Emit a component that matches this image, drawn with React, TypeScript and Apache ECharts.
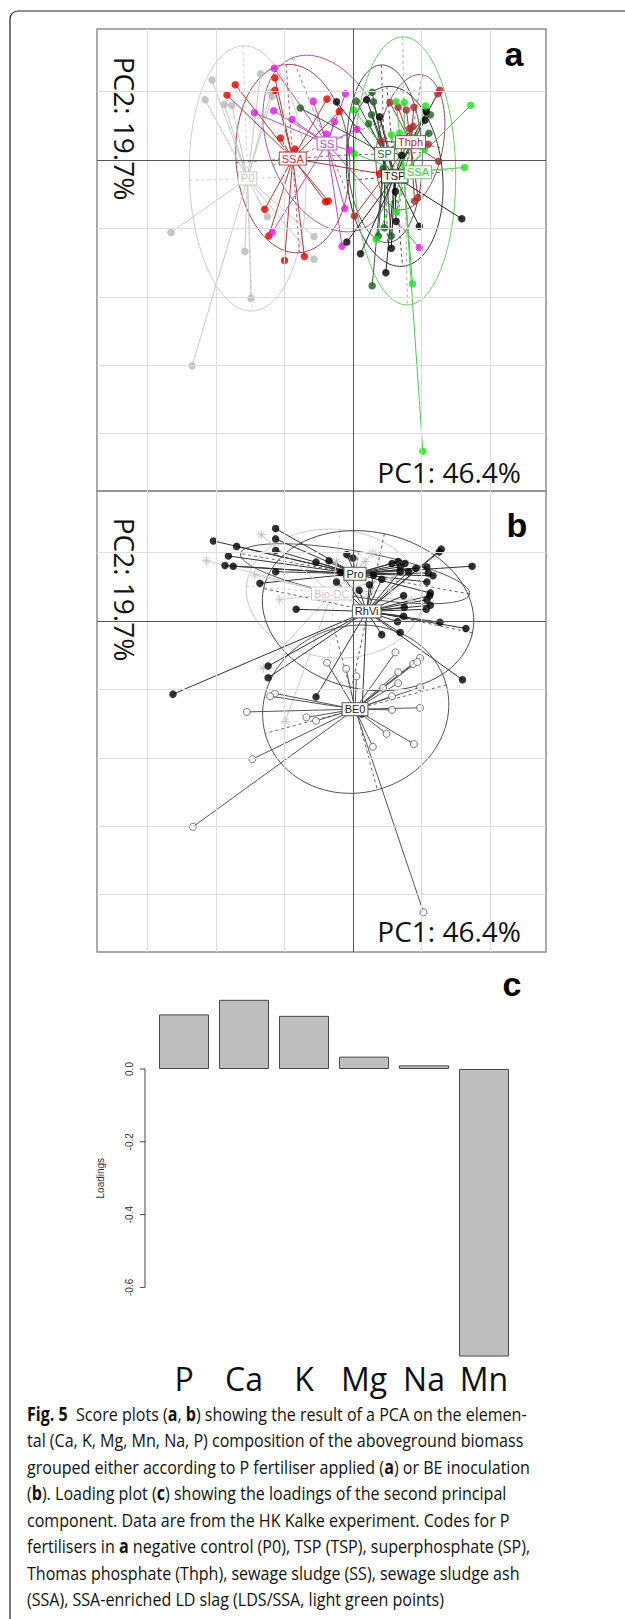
import React, { useEffect, useRef } from "react";
import * as echarts from "echarts";

// ---------- Panel a: scores grouped by P fertiliser ----------
const scoresP0 = [[-2.06,1.17],[-2.16,0.88],[-1.88,0.81],[-1.77,0.80],[-1.20,0.99],[-1.18,0.93],[-1.35,1.26],[-1.25,-0.83],[-0.57,-1.12],[-0.57,-1.45],[-1.58,-1.34],[-1.49,-2.02],[-2.66,-1.06],[-2.35,-3.01]];
const scoresSSA = [[-1.72,1.10],[-1.84,0.95],[-1.14,1.20],[-1.14,1.02],[-0.38,0.89],[-0.20,0.71],[-1.06,0.32],[-0.85,0.16],[-0.40,-0.61],[-0.36,-0.60],[-1.29,-0.72],[-1.23,-1.11],[-1.00,-1.47],[-0.71,-1.41],[0.39,-0.20]];
const scoresSS = [[-1.15,1.34],[-1.44,0.69],[-1.16,0.72],[-0.89,0.59],[-0.58,0.86],[-0.27,0.56],[-0.11,0.97],[0.06,0.45],[-0.05,0.14],[-0.12,-0.71],[-0.16,-1.26],[-1.18,-1.06],[0.97,-1.28],[-0.39,0.38]];
const scoresThph = [[1.27,1.02],[1.24,0.97],[0.54,0.84],[0.66,0.77],[0.78,0.73],[0.89,0.77],[0.83,0.46],[0.88,0.49],[1.10,0.23],[1.25,-0.02],[0.90,-0.60],[0.95,-0.55],[0.02,-0.82],[0.41,0.27]];
const scoresSP = [[-0.77,0.76],[0.05,0.86],[0.28,0.99],[0.30,0.85],[0.27,0.66],[0.23,0.53],[0.44,-0.12],[0.46,-0.99],[0.56,-1.11],[0.37,-1.11],[0.28,-1.84],[1.13,0.66],[1.11,0.39]];
const scoresTSP = [[-0.24,0.85],[0.20,0.88],[0.71,0.07],[1.07,0.71],[1.05,0.58],[0.63,-0.90],[0.97,-0.97],[0.56,-1.29],[0.48,-1.65],[0.11,-1.37],[-0.09,-1.20],[1.59,-0.86],[0.62,-0.46],[0.39,0.63]];
const scoresLDS = [[1.72,0.80],[1.63,-0.11],[0.01,0.73],[0.63,0.85],[0.75,0.84],[1.06,0.79],[0.56,0.37],[0.68,0.39],[0.64,-0.76],[0.34,-1.16],[0.87,-1.81],[0.02,0.09],[1.04,0.15],[1.02,-4.26]];

// centroids, label positions, ellipses [cx, cy, semi-major, semi-minor, angle deg]
const centroidsA = [[-1.54,-0.27],[-0.88,0.02],[-0.38,0.24],[0.84,0.26],[0.46,0.09],[0.61,-0.24],[0.74,-0.18]];
const labelPosA = [[-1.54,-0.27],[-0.88,0.02],[-0.38,0.24],[0.84,0.26],[0.46,0.09],[0.61,-0.24],[0.95,-0.18]];
const ellipsesA = [[-1.54,-0.27,1.94,0.85,92],[-0.88,0.02,1.38,0.83,94],[-0.38,0.24,1.35,0.85,112],[0.84,0.26,1.0,0.48,80],[0.46,0.09,1.30,0.55,92],[0.61,-0.24,1.32,0.70,95],[0.76,-0.16,1.96,0.74,91]];
const labelsA = ["P0","SSA","SS","Thph","SP","TSP","SSA"];

// ---------- Panel b: scores grouped by BE inoculation ----------
const scoresPro = [[-1.13,1.35],[-1.13,1.20],[-2.04,1.17],[-1.70,1.09],[-1.13,1.03],[-1.82,0.95],[-1.87,0.81],[-1.75,0.80],[-1.13,0.72],[-1.36,0.55],[-0.54,0.86],[-0.35,0.88],[-0.09,0.97],[0.00,0.92],[0.57,0.84],[0.66,0.87],[0.69,0.79],[0.76,0.84],[0.92,0.77],[1.08,0.79],[1.10,0.70],[1.17,0.66],[1.74,0.80],[1.08,0.57],[1.13,0.41]];
const scoresBioDC = [[-1.34,1.26],[-2.14,0.88],[-1.44,0.67],[-1.07,0.31],[-0.24,0.87],[0.18,0.87],[0.29,0.99],[-1.31,-0.69],[-0.99,-1.47],[0.55,0.45],[0.85,0.30],[0.95,0.75],[0.35,0.15]];
const scoresRhVi = [[-0.83,0.17],[0.24,0.53],[0.09,0.45],[0.30,0.67],[0.42,0.61],[0.69,0.72],[0.81,0.72],[1.26,1.01],[1.29,1.05],[1.12,0.37],[1.08,0.31],[1.13,0.23],[1.07,0.17],[0.74,0.37],[0.75,0.20],[0.74,0.07],[0.65,-0.01],[0.69,-0.17],[0.42,-0.20],[1.27,-0.02],[1.65,-0.11],[-1.24,-0.66],[-1.24,-0.83],[-2.63,-1.07],[-0.54,-1.11],[1.60,-0.86],[0.13,-1.36],[-0.18,0.71],[-0.24,0.57]];
const scoresBE0 = [[0.62,-0.46],[0.98,-0.54],[0.88,-0.63],[0.94,-0.60],[0.66,-0.75],[0.66,-0.91],[0.44,-0.98],[0.98,-0.97],[0.57,-1.10],[-0.10,-0.70],[0.05,-0.81],[-0.38,-0.61],[-1.14,-1.06],[-1.21,-1.10],[-1.55,-1.33],[-0.68,-1.41],[-0.54,-1.46],[0.57,-1.30],[0.98,-1.27],[0.49,-1.65],[0.89,-1.80],[0.29,-1.84],[-1.47,-2.02],[-2.34,-3.01],[1.03,-4.26]];

const centroidsB = [[0.03,0.69],[-0.31,0.40],[0.20,0.14],[0.03,-1.29]];
const ellipsesB = [[0.03,0.69,1.70,0.33,-10],[-0.27,0.40,1.29,0.94,-5],[0.22,0.15,1.56,1.15,-12],[0.04,-1.29,1.37,1.22,15]];
const labelsB = ["Pro","Bio-DC","RhVi","BE0"];

// ---------- Panel c: loadings of PC2 ----------
const elements = ["P","Ca","K","Mg","Na","Mn"];
const loadings = [0.150, 0.190, 0.146, 0.034, 0.010, -0.790];
const loadingTicks = [0, -0.2, -0.4, -0.6];

// grid lines of score plots
const gridTicksX = [-3,-2,-1,1,2];
const gridTicksY = [1,-1,-2,-3,-4];

const captionLines = [
  "{b|Fig. 5}  Score plots ({b|a}, {b|b}) showing the result of a PCA on the elemen-",
  "tal (Ca, K, Mg, Mn, Na, P) composition of the aboveground biomass",
  "grouped either according to P fertiliser applied ({b|a}) or BE inoculation",
  "({b|b}). Loading plot ({b|c}) showing the loadings of the second principal",
  "component. Data are from the HK Kalke experiment. Codes for P",
  "fertilisers in {b|a} negative control (P0), TSP (TSP), superphosphate (SP),",
  "Thomas phosphate (Thph), sewage sludge (SS), sewage sludge ash",
  "(SSA), SSA-enriched LD slag (LDS/SSA, light green points)",
];

type Group = {
  points: number[][];
  centroid: number[];
  labelPos: number[];
  ellipse: number[];
  label: string;
  pointColor: string;
  pointBorder?: string;
  lineColor: string;
  ellipseColor: string;
  labelColor: string;
  labelBorder: string;
  symbol: "circle" | "open" | "star";
};

const LABEL_FONT = "Liberation Sans, Arial, sans-serif";

function groupSeries(gi: number, g: Group): any[] {
  const base = { xAxisIndex: gi, yAxisIndex: gi, silent: true };
  const out: any[] = [];
  out.push({
    ...base,
    type: "custom",
    clip: true,
    z: 2,
    encode: { x: 0, y: 1 },
    data: [g.ellipse],
    renderItem: (params: any, api: any) => {
      const cx = api.value(0), cy = api.value(1), a = api.value(2), b = api.value(3);
      const ang = (api.value(4) * Math.PI) / 180;
      const ca = Math.cos(ang), sa = Math.sin(ang);
      const pts: number[][] = [];
      for (let i = 0; i <= 96; i++) {
        const t = (i / 96) * Math.PI * 2;
        const ex = a * Math.cos(t), ey = b * Math.sin(t);
        pts.push(api.coord([cx + ex * ca - ey * sa, cy + ex * sa + ey * ca]));
      }
      const p1 = api.coord([cx + a * ca, cy + a * sa]);
      const p2 = api.coord([cx - a * ca, cy - a * sa]);
      const q1 = api.coord([cx - b * sa, cy + b * ca]);
      const q2 = api.coord([cx + b * sa, cy - b * ca]);
      return {
        type: "group",
        children: [
          { type: "polyline", shape: { points: pts }, style: { stroke: g.ellipseColor, fill: "none", lineWidth: 1 } },
          { type: "line", shape: { x1: p1[0], y1: p1[1], x2: p2[0], y2: p2[1] }, style: { stroke: g.ellipseColor, lineWidth: 0.9, lineDash: [3, 3] } },
          { type: "line", shape: { x1: q1[0], y1: q1[1], x2: q2[0], y2: q2[1] }, style: { stroke: g.ellipseColor, lineWidth: 0.9, lineDash: [3, 3] } },
        ],
      };
    },
  });
  out.push({
    ...base,
    type: "custom",
    clip: true,
    z: 3,
    encode: { x: 0, y: 1 },
    data: g.points,
    renderItem: (params: any, api: any) => {
      const p = api.coord([api.value(0), api.value(1)]);
      const c = api.coord(g.centroid);
      return { type: "line", shape: { x1: c[0], y1: c[1], x2: p[0], y2: p[1] }, style: { stroke: g.lineColor, lineWidth: 1 } };
    },
  });
  if (g.symbol === "star") {
    out.push({
      ...base,
      type: "custom",
      clip: true,
      z: 4,
      encode: { x: 0, y: 1 },
      data: g.points,
      renderItem: (params: any, api: any) => {
        const p = api.coord([api.value(0), api.value(1)]);
        const r = 4.5, d = r * 0.707;
        const st = { stroke: g.pointColor, lineWidth: 1 };
        return {
          type: "group",
          children: [
            { type: "line", shape: { x1: p[0] - r, y1: p[1], x2: p[0] + r, y2: p[1] }, style: st },
            { type: "line", shape: { x1: p[0], y1: p[1] - r, x2: p[0], y2: p[1] + r }, style: st },
            { type: "line", shape: { x1: p[0] - d, y1: p[1] - d, x2: p[0] + d, y2: p[1] + d }, style: st },
            { type: "line", shape: { x1: p[0] - d, y1: p[1] + d, x2: p[0] + d, y2: p[1] - d }, style: st },
          ],
        };
      },
    });
  } else {
    out.push({
      ...base,
      type: "scatter",
      z: 4,
      symbol: "circle",
      symbolSize: g.symbol === "open" ? 7 : 7.5,
      data: g.points,
      itemStyle:
        g.symbol === "open"
          ? { color: "#ffffff", borderColor: g.pointBorder || "#555", borderWidth: 1 }
          : { color: g.pointColor },
    });
  }
  out.push({
    ...base,
    type: "custom",
    z: 6,
    encode: { x: 0, y: 1 },
    data: [g.labelPos],
    renderItem: (params: any, api: any) => {
      const p = api.coord([api.value(0), api.value(1)]);
      return {
        type: "text",
        x: p[0],
        y: p[1],
        style: {
          text: g.label,
          fill: g.labelColor,
          fontSize: 11,
          fontFamily: LABEL_FONT,
          align: "center",
          verticalAlign: "middle",
          backgroundColor: "#ffffff",
          borderColor: g.labelBorder,
          borderWidth: 1,
          padding: [1, 2, 0, 2],
        },
      };
    },
  });
  return out;
}

function gridLineSeries(gi: number): any {
  return {
    type: "scatter",
    xAxisIndex: gi,
    yAxisIndex: gi,
    data: [],
    silent: true,
    z: 1,
    markLine: {
      silent: true,
      symbol: "none",
      label: { show: false },
      animation: false,
      data: [
        ...gridTicksX.map((v) => ({ xAxis: v, lineStyle: { color: "#dddddd", width: 1, type: "solid" } })),
        ...gridTicksY.map((v) => ({ yAxis: v, lineStyle: { color: "#dddddd", width: 1, type: "solid" } })),
        { xAxis: 0, lineStyle: { color: "#555555", width: 1, type: "solid" } },
        { yAxis: 0, lineStyle: { color: "#555555", width: 1, type: "solid" } },
      ],
    },
  };
}

const stylesA = [
  { pointColor: "#b8b8b8", lineColor: "#c8c8c8", ellipseColor: "#cccccc", labelColor: "#c4c4c4", labelBorder: "#c8c8c8" },
  { pointColor: "#e20000", lineColor: "#b33a3a", ellipseColor: "#a8454c", labelColor: "#c83232", labelBorder: "#b04040" },
  { pointColor: "#e41ae4", lineColor: "#b650b6", ellipseColor: "#a858a8", labelColor: "#d040d0", labelBorder: "#b060b0" },
  { pointColor: "#a52a2a", lineColor: "#9b3b3b", ellipseColor: "#8e5252", labelColor: "#a03030", labelBorder: "#905050" },
  { pointColor: "#1b5e20", lineColor: "#2f5f2f", ellipseColor: "#505050", labelColor: "#2a6a2a", labelBorder: "#507050" },
  { pointColor: "#000000", lineColor: "#222222", ellipseColor: "#383838", labelColor: "#111111", labelBorder: "#333333" },
  { pointColor: "#1ee01e", lineColor: "#4cc94c", ellipseColor: "#6ccf6c", labelColor: "#44c444", labelBorder: "#66cc66" },
];
const scoresA = [scoresP0, scoresSSA, scoresSS, scoresThph, scoresSP, scoresTSP, scoresLDS];

const stylesB = [
  { pointColor: "#000000", lineColor: "#333333", ellipseColor: "#555555", labelColor: "#222222", labelBorder: "#555555", symbol: "circle" },
  { pointColor: "#c4c4c4", lineColor: "#cccccc", ellipseColor: "#cccccc", labelColor: "#c8c8c8", labelBorder: "#cccccc", symbol: "star" },
  { pointColor: "#000000", lineColor: "#333333", ellipseColor: "#4a4a4a", labelColor: "#222222", labelBorder: "#555555", symbol: "circle" },
  { pointColor: "#ffffff", pointBorder: "#555555", lineColor: "#555555", ellipseColor: "#555555", labelColor: "#222222", labelBorder: "#555555", symbol: "open" },
];
const scoresB = [scoresPro, scoresBioDC, scoresRhVi, scoresBE0];

export default function App() {
  const ref = useRef<HTMLDivElement>(null);
  useEffect(() => {
    if (!ref.current) return;
    const chart = echarts.init(ref.current, undefined, { renderer: "svg" });

    const series: any[] = [gridLineSeries(0), gridLineSeries(1)];
    scoresA.forEach((pts, i) => {
      series.push(
        ...groupSeries(0, {
          points: pts,
          centroid: centroidsA[i],
          labelPos: labelPosA[i],
          ellipse: ellipsesA[i],
          label: labelsA[i],
          symbol: "circle",
          ...stylesA[i],
        } as Group)
      );
    });
    scoresB.forEach((pts, i) => {
      series.push(
        ...groupSeries(1, {
          points: pts,
          centroid: centroidsB[i],
          labelPos: centroidsB[i],
          ellipse: ellipsesB[i],
          label: labelsB[i],
          ...stylesB[i],
        } as Group)
      );
    });

    series.push({
      type: "bar",
      xAxisIndex: 2,
      yAxisIndex: 2,
      data: loadings,
      barWidth: 50,
      silent: true,
      itemStyle: { color: "#bebebe", borderColor: "#4a4a4a", borderWidth: 1 },
    });
    // R-style y axis of the loading plot
    series.push({
      type: "custom",
      xAxisIndex: 2,
      yAxisIndex: 2,
      silent: true,
      encode: { x: 0, y: 1 },
      data: loadingTicks.map((v) => [0, v]),
      renderItem: (params: any, api: any) => {
        const v = api.value(1);
        const p = api.coord([0, v]);
        const ax = params.coordSys.x - 9;
        const children: any[] = [
          { type: "line", shape: { x1: ax - 5, y1: p[1], x2: ax, y2: p[1] }, style: { stroke: "#444", lineWidth: 1 } },
          {
            type: "text",
            x: ax - 16,
            y: p[1],
            rotation: Math.PI / 2,
            style: { text: v.toFixed(1), fill: "#333", fontSize: 10, fontFamily: LABEL_FONT, align: "center", verticalAlign: "middle" },
          },
        ];
        if (params.dataIndex === 0) {
          const top = api.coord([0, loadingTicks[0]]);
          const bot = api.coord([0, loadingTicks[loadingTicks.length - 1]]);
          children.push({ type: "line", shape: { x1: ax, y1: top[1], x2: ax, y2: bot[1] }, style: { stroke: "#444", lineWidth: 1 } });
        }
        return { type: "group", children };
      },
    });

    const bigText = (text: string, x: number, y: number, rot: number, align: string) => ({
      type: "text",
      x,
      y,
      rotation: rot,
      z: 50,
      style: { text, fill: "#111", fontSize: 28, fontFamily: "Open Sans", align, verticalAlign: "middle", textAlign: align, textVerticalAlign: "middle" },
    });
    const letter = (text: string, x: number, y: number) => ({
      type: "text",
      x,
      y,
      z: 50,
      style: { text, fill: "#000", fontSize: 34, fontWeight: "bold", fontFamily: "Liberation Sans, Arial", align: "center", verticalAlign: "middle", textAlign: "center", textVerticalAlign: "middle" },
    });

    const captionRich = {
      b: { fontWeight: "bold", fontFamily: "Open Sans", fontSize: 19, fill: "#111", color: "#111" },
    };
    const graphics: any[] = [
      {
        type: "rect",
        z: 0,
        shape: { x: 10, y: 11, width: 900, height: 1800, r: [8, 0, 0, 0] },
        style: { fill: "none", stroke: "#222", lineWidth: 1.2 },
      },
      bigText("PC2: 19.7%", 125, 128.5, -Math.PI / 2, "center"),
      bigText("PC2: 19.7%", 125, 589.5, -Math.PI / 2, "center"),
      bigText("PC1: 46.4%", 521, 472, 0, "right"),
      bigText("PC1: 46.4%", 521, 931, 0, "right"),
      letter("a", 514, 54),
      letter("b", 517, 525),
      letter("c", 512, 984),
      ...captionLines.map((t, i) => ({
        type: "text",
        x: 27,
        y: 1413 + i * 26.5,
        scaleX: 0.845,
        z: 50,
        style: {
          text: t,
          fill: "#111",
          fontSize: 19,
          fontFamily: "Open Sans",
          align: "left",
          verticalAlign: "middle",
          textAlign: "left",
          textVerticalAlign: "middle",
          rich: captionRich,
        },
      })),
    ];

    const option: any = {
      animation: false,
      backgroundColor: "#ffffff",
      grid: [
        { left: 97, top: 29, width: 449, height: 462, show: true, borderColor: "#8e8e8e", borderWidth: 1.5, backgroundColor: "transparent" },
        { left: 97, top: 491, width: 449, height: 461, show: true, borderColor: "#8e8e8e", borderWidth: 1.5, backgroundColor: "transparent" },
        { left: 154, top: 996.2, width: 360, height: 364 },
      ],
      xAxis: [
        { gridIndex: 0, type: "value", min: -3.74, max: 2.82, show: false },
        { gridIndex: 1, type: "value", min: -3.74, max: 2.82, show: false },
        {
          gridIndex: 2,
          type: "category",
          data: elements,
          axisLine: { show: false },
          axisTick: { show: false },
          axisLabel: { fontSize: 32, fontFamily: "Open Sans", color: "#111", margin: 2, interval: 0 },
        },
      ],
      yAxis: [
        { gridIndex: 0, type: "value", min: -4.84, max: 1.915, show: false },
        { gridIndex: 1, type: "value", min: -4.84, max: 1.9, show: false },
        {
          gridIndex: 2,
          type: "value",
          min: -0.8,
          max: 0.2,
          interval: 0.2,
          axisLine: { show: false },
          axisTick: { show: false },
          axisLabel: { show: false },
          splitLine: { show: false },
          name: "Loadings",
          nameLocation: "middle",
          nameGap: 49,
          nameRotate: 90,
          nameTextStyle: { fontSize: 10, color: "#333", fontFamily: LABEL_FONT },
        },
      ],
      series,
      graphic: { elements: graphics },
    };
    chart.setOption(option);
    return () => chart.dispose();
  }, []);
  return <div ref={ref} style={{ position: "absolute", left: 0, top: 0, width: 625, height: 1619 }} />;
}
